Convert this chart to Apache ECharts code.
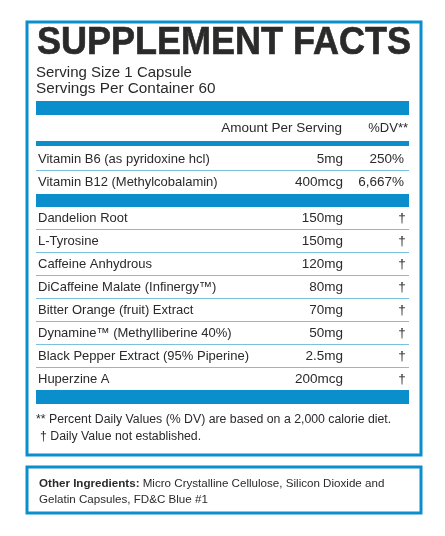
<!DOCTYPE html>
<html>
<head>
<meta charset="utf-8">
<script src="https://cdn.jsdelivr.net/npm/echarts@6/dist/echarts.min.js"></script>
<style>html,body{margin:0;padding:0;background:#fff}#main{width:445px;height:536px}</style>
</head>
<body>
<div id="main"></div>
<script>
// vitamins with %DV
var vitNames = ['Vitamin B6 (as pyridoxine hcl)', 'Vitamin B12 (Methylcobalamin)'];
var vitAmounts = ['5mg', '400mcg'];
var vitDV = ['250%', '6,667%'];
// blend ingredients, DV not established
var ingNames = ['Dandelion Root', 'L-Tyrosine', 'Caffeine Anhydrous', 'DiCaffeine Malate (Infinergy™)',
  'Bitter Orange (fruit) Extract', 'Dynamine™ (Methylliberine 40%)', 'Black Pepper Extract (95% Piperine)', 'Huperzine A'];
var ingAmounts = ['150mg', '150mg', '120mg', '80mg', '70mg', '50mg', '2.5mg', '200mcg'];
var ingDV = ['†', '†', '†', '†', '†', '†', '†', '†'];

var blue = '#0a8fcc';
var ink = '#2a2a2a';
var font = '"Liberation Sans", Arial, sans-serif';

function txt(x, y, s, size, align, weight) {
  return { type: 'text', x: x, y: y, style: { text: s, fill: ink, font: (weight || 'normal') + ' ' + size + 'px ' + font, textAlign: align || 'left', textVerticalAlign: 'middle' } };
}
function bar(y, h) {
  return { type: 'rect', shape: { x: 36, y: y, width: 373, height: h }, style: { fill: blue } };
}
function line(y) {
  return { type: 'line', shape: { x1: 36, y1: y, x2: 409, y2: y }, style: { stroke: '#7cc0e0', lineWidth: 1 } };
}

var els = [];
els.push({ type: 'rect', shape: { x: 27, y: 22, width: 394, height: 433 }, style: { fill: 'none', stroke: blue, lineWidth: 3 } });
els.push({ type: 'rect', shape: { x: 27, y: 467, width: 394, height: 46 }, style: { fill: 'none', stroke: blue, lineWidth: 3 } });
var title = txt(0, 0, 'SUPPLEMENT FACTS', 36, 'left', 'bold');
title.x = 37; title.y = 43; title.scaleY = 1.08;
title.style.stroke = ink; title.style.lineWidth = 0.6;
els.push(title);
els.push(txt(36, 73, 'Serving Size 1 Capsule', 15));
els.push(txt(36, 89, 'Servings Per Container 60', 15.3));
els.push(bar(101, 14));
els.push(txt(342, 128, 'Amount Per Serving', 13.5, 'right'));
els.push(txt(408, 128, '%DV**', 13, 'right'));
els.push(bar(141, 5));
vitNames.forEach(function (n, i) {
  var y = 159 + i * 23;
  els.push(txt(38, y, n, 13));
  els.push(txt(343, y, vitAmounts[i], 13.5, 'right'));
  els.push(txt(404, y, vitDV[i], 13.5, 'right'));
  if (i < vitNames.length - 1) els.push(line(y + 11.5));
});
els.push(bar(194, 13));
ingNames.forEach(function (n, i) {
  var y = 218 + i * 23;
  els.push(txt(38, y, n, 13));
  els.push(txt(343, y, ingAmounts[i], 13.5, 'right'));
  els.push(txt(402, y, ingDV[i], 13.5, 'center'));
  if (i < ingNames.length - 1) els.push(line(y + 11.5));
});
els.push(bar(390, 14));
els.push(txt(36, 420, '** Percent Daily Values (% DV) are based on a 2,000 calorie diet.', 12.3));
els.push(txt(40, 437, '† Daily Value not established.', 12.3));
els.push({ type: 'text', x: 39, y: 484, style: { text: '{b|Other Ingredients:} Micro Crystalline Cellulose, Silicon Dioxide and', fill: ink, font: '11.6px ' + font, textVerticalAlign: 'middle', rich: { b: { fontWeight: 'bold', fontSize: 11.6, fontFamily: font, fill: ink } } } });
els.push(txt(39, 500, 'Gelatin Capsules, FD&C Blue #1', 11.6));

var chart = echarts.init(document.getElementById('main'));
chart.setOption({ backgroundColor: '#fff', graphic: { elements: els } });
</script>
</body>
</html>
